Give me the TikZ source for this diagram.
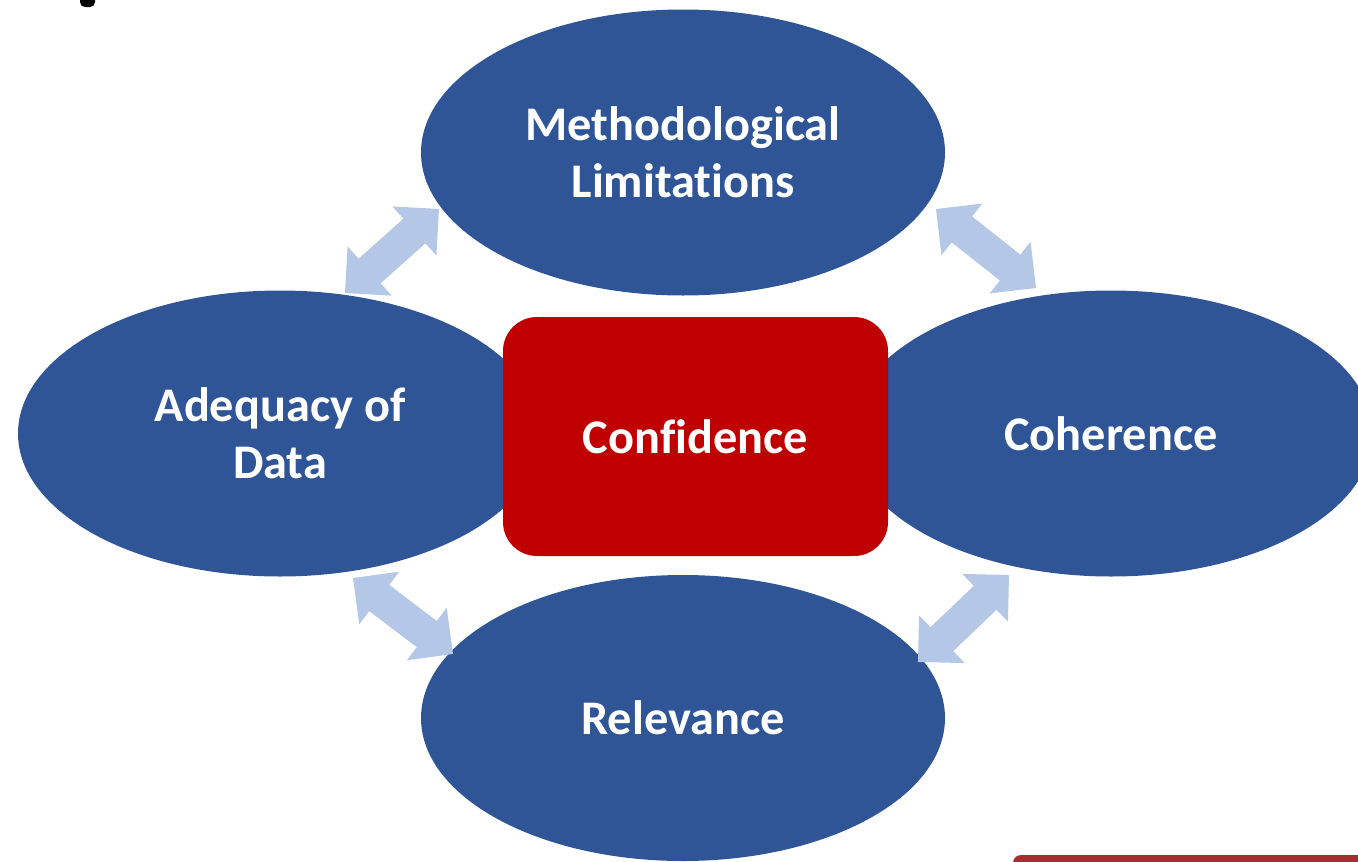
\documentclass[tikz,border=0pt]{standalone}
\usepackage{fontspec}
\setmainfont[Ligatures=NoCommon]{Carlito}
\usetikzlibrary{shapes.geometric,calc}
\definecolor{ellblue}{RGB}{47,85,151}
\definecolor{arrblue}{RGB}{180,199,231}
\definecolor{boxred}{RGB}{192,0,0}
\definecolor{barred}{RGB}{165,45,45}
\tikzset{
  bubble/.style={ellipse, fill=ellblue, draw=none, minimum width=524pt, minimum height=286pt, inner sep=0pt,
    text=white, align=center, font=\fontsize{48.3}{57}\selectfont\bfseries},
  centerbox/.style={rectangle, rounded corners=34pt, fill=boxred, draw=none, minimum width=385pt, minimum height=239pt,
    text=white, font=\fontsize{48.3}{57}\selectfont\bfseries},
  arrowfill/.style={fill=arrblue, draw=none}
}
\newcommand{\dblarr}[3]{%
  \coordinate (#1a) at #2;
  \coordinate (#1b) at #3;
  \fill[arrowfill] (#1a)
    -- ($(#1a)!33pt!(#1b)!33pt!90:(#1b)$)
    -- ($(#1a)!33pt!(#1b)!16.5pt!90:(#1b)$)
    -- ($(#1b)!33pt!(#1a)!16.5pt!-90:(#1a)$)
    -- ($(#1b)!33pt!(#1a)!33pt!-90:(#1a)$)
    -- (#1b)
    -- ($(#1b)!33pt!(#1a)!33pt!90:(#1a)$)
    -- ($(#1b)!33pt!(#1a)!16.5pt!90:(#1a)$)
    -- ($(#1a)!33pt!(#1b)!16.5pt!-90:(#1b)$)
    -- ($(#1a)!33pt!(#1b)!33pt!-90:(#1b)$)
    -- cycle;}
\begin{document}
\begin{tikzpicture}[x=1pt,y=-1pt]
\useasboundingbox (0,0) rectangle (1358,862);
\clip (0,0) rectangle (1358,862);
% cropped title fragment and footer bar
\fill[black, rounded corners=5pt] (80,-12) rectangle (95,7);
\fill[barred, rounded corners=8pt] (1013,855) rectangle (1380,880);
% ellipses
\node[bubble] (meth) at (683,152.5) {Methodological\\Limitations};
\node[bubble] (adeq) at (280,433.5) {Adequacy of\\Data};
\node[bubble] (coh) at (1111,433.5) {Coherence};
\node[bubble] (rel) at (683,718) {Relevance};
% centre box
\node[centerbox] (conf) at (695.5,436.5) {Confidence};
% double arrows
\dblarr{tl}{(345,293)}{(439,209)}
\dblarr{tr}{(936,209)}{(1036,288)}
\dblarr{bl}{(353,578)}{(453,654)}
\dblarr{br}{(1009,575)}{(918,662)}
\end{tikzpicture}
\end{document}
